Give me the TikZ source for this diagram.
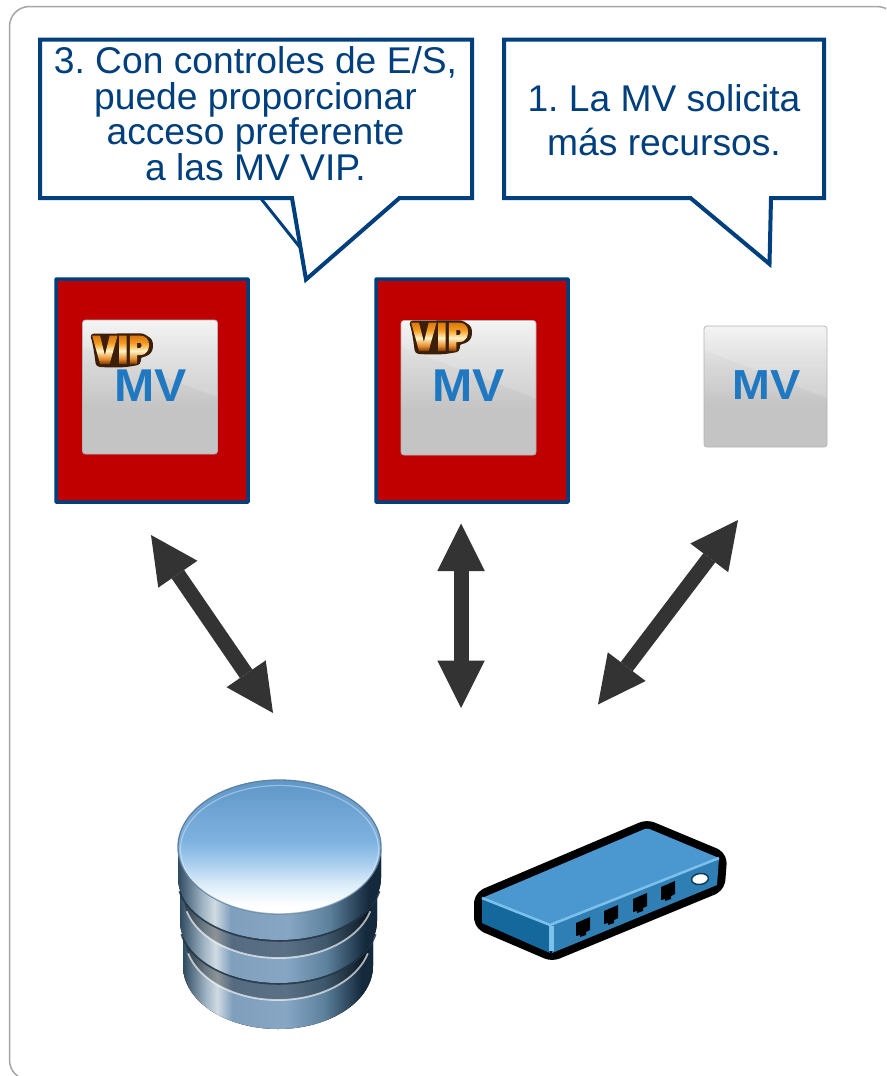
\documentclass[tikz,border=0pt]{standalone}
\usepackage{fontspec}
\setmainfont{Liberation Sans}
\newfontfamily\vipfont{Poppins Black}
\usetikzlibrary{arrows.meta}
\definecolor{navy}{HTML}{003F7D}
\definecolor{boxred}{HTML}{C00000}
\definecolor{framegrey}{HTML}{A6A6A6}
\definecolor{arrowgrey}{HTML}{333333}
\definecolor{mvblue}{HTML}{1F78C0}
\definecolor{tileA}{HTML}{F2F2F2}
\definecolor{tileB}{HTML}{DADADA}
\definecolor{tileC}{HTML}{C4C4C4}
\definecolor{dA}{HTML}{2F4A60}
\definecolor{dB}{HTML}{9FB4C4}
\definecolor{dC}{HTML}{D0DBE3}
\definecolor{dD}{HTML}{7F9FBD}
\definecolor{dE}{HTML}{86A6C4}
\definecolor{dF}{HTML}{5E829E}
\definecolor{dG}{HTML}{14293C}
\definecolor{tA}{HTML}{5F97C8}
\definecolor{tB}{HTML}{7FB2E0}
\definecolor{tC}{HTML}{A8CDEE}
\definecolor{tD}{HTML}{DCEDF9}
\definecolor{vA}{HTML}{C9660C}
\definecolor{vB}{HTML}{F49A1E}
\definecolor{vC}{HTML}{FFF3C4}
\definecolor{vD}{HTML}{E88A2A}
\definecolor{vE}{HTML}{8A4A10}
\definecolor{vipdark}{HTML}{3D1E08}
\definecolor{swtop}{HTML}{4B98D0}
\definecolor{swleft}{HTML}{14689C}
\definecolor{swright}{HTML}{2F7FB5}
\definecolor{swshine}{HTML}{7CC0EC}
\pgfdeclareverticalshading{tileshade}{100bp}{color(0bp)=(tileC);color(25bp)=(tileC);color(42bp)=(tileC);color(60bp)=(tileB);color(75bp)=(tileA);color(100bp)=(tileA)}
\pgfdeclarehorizontalshading{tiershade}{100bp}{color(0bp)=(dA);color(25bp)=(dA);color(31bp)=(dB);color(34bp)=(dC);color(38bp)=(dD);color(52bp)=(dE);color(62bp)=(dF);color(72bp)=(dG);color(75bp)=(dG);color(100bp)=(dG)}
\pgfdeclareverticalshading{topshade}{100bp}{color(0bp)=(white);color(28bp)=(white);color(36bp)=(tD);color(44bp)=(tC);color(52bp)=(tB);color(75bp)=(tA);color(100bp)=(tA)}
\pgfdeclareverticalshading{vipgrad}{100bp}{color(0bp)=(vE);color(5bp)=(vE);color(9bp)=(vD);color(17bp)=(vC);color(25bp)=(vB);color(36bp)=(vA);color(40bp)=(vA)}
\tikzset{
  frameline/.style={draw=framegrey,line width=1.5pt,rounded corners=20pt},
  callout/.style={draw=navy,fill=white,line width=4pt,line join=miter},
  calltext/.style={text=navy,align=center,inner sep=0pt,font=\fontsize{37.2}{35.5}\selectfont},
  vmbox/.style={draw=navy,fill=boxred,line width=3.5pt,rounded corners=0.5pt},
  tile/.style={shading=tileshade,draw=tileC!92!black,line width=0.8pt,rounded corners=3pt},
  gloss/.style={fill=white,opacity=.16},
  mvtext/.style={text=mvblue,inner sep=0pt,anchor=base,font=\fontsize{46}{46}\selectfont\bfseries},
  viptext/.style={inner sep=0pt,anchor=base west},
  vipplate/.style={fill=vipdark,draw=vipdark,line width=1.5pt,rounded corners=3pt},
  blockarrow/.style={draw=arrowgrey,line width=15pt,{Triangle[width=47.5pt,length=47.5pt,line width=0pt,fill=arrowgrey]}-{Triangle[width=47.5pt,length=47.5pt,line width=0pt,fill=arrowgrey]}},
  tier/.style={shading=tiershade},
  surface/.style={fill=black,opacity=.32},
  groove/.style={draw=dA!75!black,line width=3.5pt,opacity=.85},
  shine/.style={draw=white,line width=1.8pt,opacity=.65},
  port/.style={fill=black},
}
\newcommand{\vipword}{\scalebox{.83}[1]{\vipfont\fontsize{40}{40}\selectfont\special{pdf:literal direct 7 Tr}VIP\special{pdf:literal direct 0 Tr}\smash{\llap{\raisebox{-4pt}{\pgfuseshading{vipgrad}}}}}}
\newcommand{\vipplatepath}{(90.7,334.5) -- (143,334) -- (152,340) -- (152,351) -- (146,356) -- (140,356.5) -- (140,364) -- (125,366.5) -- (108,366.7) -- (96.7,366) -- (95,353) -- (93,342) -- cycle}
\begin{document}
\frenchspacing
\begin{tikzpicture}[x=1pt,y=1pt,yscale=-1]
\useasboundingbox (0,0) rectangle (886,1076);
\clip (0,0) rectangle (886,1076);
\fill[white] (0,0) rectangle (886,1076);
\draw[frameline] (9.5,6.5) rectangle (897,1080);

% callouts
\draw[callout] (40,39.5) -- (472,39.5) -- (472,198) -- (399.5,198) -- (306,279.5) -- (292,198) -- (40,198) -- cycle;
\draw[navy,line width=3pt] (260.5,198) -- (300.5,248);
\node[calltext] (c3) at (255.5,113.5) {3. Con controles de E/S,\\puede proporcionar\\acceso preferente\\a las MV VIP.};
\draw[callout] (504,39.5) -- (824,39.5) -- (824,198) -- (771,198) -- (769.5,264) -- (690.5,198) -- (504,198) -- cycle;
\node[calltext,font=\fontsize{37.2}{44}\selectfont] (c1) at (664,120) {1. La MV solicita\\más recursos.};

% VM boxes
\draw[vmbox] (56,279) rectangle (248,502);
\draw[vmbox] (376,279) rectangle (568,502);
\draw[tile] (82.5,320) rectangle (217.5,454);
\draw[tile] (401,320.5) rectangle (536,455);
\draw[tile] (704,326) rectangle (827,447);
\fill[gloss] (83,320.5) -- (217,320.5) -- (217,397) -- (83,346) -- cycle;
\fill[gloss] (401.5,321) -- (535.5,321) -- (535.5,398) -- (401.5,347) -- cycle;
\fill[gloss] (704.5,326.5) -- (826.5,326.5) -- (826.5,398) -- (704.5,350) -- cycle;
\node[mvtext] (mv1) at (150.5,401) {\scalebox{1.05}[1]{MV}};
\node[mvtext] (mv2) at (468.5,401) {\scalebox{1.05}[1]{MV}};
\node[mvtext,font=\fontsize{42}{42}\selectfont\bfseries] (mv3) at (766.5,399) {\scalebox{1.08}[1]{MV}};
\draw[vipplate] \vipplatepath;
\begin{scope}[shift={(319,-13)}]
\draw[vipplate] \vipplatepath;
\end{scope}
\node[viptext] (vip1) at (92,364) {\vipword};
\node[viptext] (vip2) at (411,351) {\vipword};

% arrows
\coordinate (a1) at (151,535);
\coordinate (b1) at (273,713);
\coordinate (a2) at (461,523.5);
\coordinate (b2) at (461,708);
\coordinate (a3) at (738,520);
\coordinate (b3) at (598,704.5);
\draw[blockarrow] (a1) -- (b1);
\draw[blockarrow] (a2) -- (b2);
\draw[blockarrow] (a3) -- (b3);

% database
\fill[tier] (183,850) -- (183,966) arc (180:0:95 and 63) -- (373,850) -- cycle;
\fill[surface] ([shift={(172:93 and 63)}]278,937) arc (172:8:93 and 63) -- cycle;
\draw[shine] ([shift={(165:93 and 63)}]278,937) arc (165:15:93 and 63);
\draw[groove] ([shift={(168:98.5 and 62)}]278.5,921) arc (168:12:98.5 and 62);
\fill[tier] (180,850) -- (180,921) arc (180:0:98.5 and 62) -- (377,850) -- cycle;
\fill[surface] ([shift={(172:95 and 63)}]278.5,895) arc (172:8:95 and 63) -- cycle;
\draw[shine] ([shift={(165:95 and 63)}]278.5,895) arc (165:15:95 and 63);
\draw[groove] ([shift={(168:101.5 and 62)}]279.5,878) arc (168:12:101.5 and 62);
\fill[tier] (178,850) -- (178,878) arc (180:0:101.5 and 62) -- (381,850) -- cycle;
\draw[shading=topshade,draw=dF,line width=1.3pt] (279.5,847) ellipse (101.5 and 67);
\draw[white,line width=1.2pt,opacity=.35] (279.5,849.5) ellipse (99 and 64);

% switch
\draw[black,line width=16pt,line join=round,fill=black,rounded corners=5pt] (482,898) -- (647,828) -- (719,858) -- (717,885) -- (552,953) -- (482,923) -- cycle;
\fill[swtop,rounded corners=3pt] (482,898) -- (647,828) -- (719,858) -- (550,925) -- cycle;
\fill[swleft] (482,898) -- (550,925) -- (550,953) -- (482,923) -- cycle;
\fill[swright] (550,925) -- (719,858) -- (717,885) -- (552,953) -- cycle;
\draw[swshine,line width=2.5pt,line join=round] (482,898) -- (550,925) -- (719,858);
\draw[swshine,line width=5pt] (551,926) -- (551,951);
\foreach \px/\py in {583/927,611/915,640/903,668/891}{
  \fill[port] (\px-7,\py-4) -- (\px+7,\py-10) -- (\px+7,\py+3) -- (\px+3,\py+5) -- (\px+3,\py+8) -- (\px-3,\py+10) -- (\px-3,\py+8) -- (\px-7,\py+9) -- cycle;
}
\draw[swleft!60!black,fill=white,line width=1.5pt,rotate around={-8:(700,879)}] (700,879) ellipse (8.5 and 5.5);
\end{tikzpicture}
\end{document}
